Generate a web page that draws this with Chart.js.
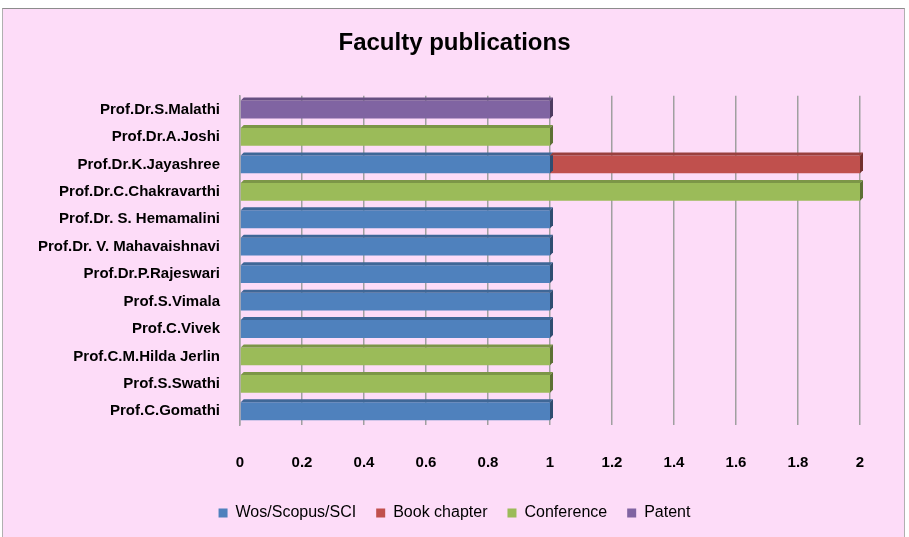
<!DOCTYPE html>
<html>
<head>
<meta charset="utf-8">
<script src="https://cdn.jsdelivr.net/npm/chart.js@4"></script>
<style>
    body { margin: 0; background: #ffffff; }
    #ramecek {
        position: absolute; left: 2px; top: 8px; width: 903px; height: 529px;
        background: #fddcf8; border-top: 1px solid #8c8c8c; border-left: 1px solid #b0b0b0; border-right: 1px solid #b0b0b0;
        box-sizing: border-box;
    }
    #obal { position: absolute; left: 0; top: 0; width: 909px; height: 537px; }
</style>
</head>
<body>
<div id="ramecek"></div>
<div id="obal"><canvas id="grafPublikace" width="909" height="537"></canvas></div>
<script>
const ucitele = [
    'Prof.Dr.S.Malathi', 'Prof.Dr.A.Joshi', 'Prof.Dr.K.Jayashree', 'Prof.Dr.C.Chakravarthi',
    'Prof.Dr. S. Hemamalini', 'Prof.Dr. V. Mahavaishnavi', 'Prof.Dr.P.Rajeswari', 'Prof.S.Vimala',
    'Prof.C.Vivek', 'Prof.C.M.Hilda Jerlin', 'Prof.S.Swathi', 'Prof.C.Gomathi'
];
const wosScopus   = [0, 0, 1, 0, 1, 1, 1, 1, 1, 0, 0, 1];
const kapitolaKnihy = [0, 0, 1, 0, 0, 0, 0, 0, 0, 0, 0, 0];
const konference  = [0, 1, 0, 2, 0, 0, 0, 0, 0, 1, 1, 0];
const patent      = [1, 0, 0, 0, 0, 0, 0, 0, 0, 0, 0, 0];
const osaX = [0, 0.2, 0.4, 0.6, 0.8, 1, 1.2, 1.4, 1.6, 1.8, 2];

const pismo = "'Liberation Sans Narrow', 'Liberation Sans', sans-serif";

// ztmavi barvu pro 3D hrany
function ztmav(hex, f) {
    const n = parseInt(hex.slice(1), 16);
    const r = Math.round(((n >> 16) & 255) * f), g = Math.round(((n >> 8) & 255) * f), b = Math.round((n & 255) * f);
    return `rgb(${r},${g},${b})`;
}

const hloubka = {
    id: 'hloubka',
    afterLayout(chart) {
        // popisky osy y se jinak orezou na levem okraji osy
        chart.scales.y.left = 0;
    },
    afterDatasetsDraw(chart) {
        const ctx = chart.ctx;
        const d = 3;
        chart.data.datasets.forEach((ds, i) => {
            const meta = chart.getDatasetMeta(i);
            meta.data.forEach((bar, j) => {
                if (!ds.data[j]) return;
                const top = bar.y - bar.height / 2, bottom = bar.y + bar.height / 2;
                ctx.save();
                ctx.fillStyle = ztmav(ds.backgroundColor, 0.8);
                ctx.beginPath();
                ctx.moveTo(bar.base, top); ctx.lineTo(bar.base + d, top - d);
                ctx.lineTo(bar.x + d, top - d); ctx.lineTo(bar.x, top); ctx.closePath(); ctx.fill();
                ctx.fillStyle = ztmav(ds.backgroundColor, 0.6);
                ctx.beginPath();
                ctx.moveTo(bar.x, top); ctx.lineTo(bar.x + d, top - d);
                ctx.lineTo(bar.x + d, bottom - d); ctx.lineTo(bar.x, bottom); ctx.closePath(); ctx.fill();
                ctx.restore();
            });
        });
    }
};

new Chart(document.getElementById('grafPublikace'), {
    type: 'bar',
    data: {
        labels: ucitele,
        datasets: [
            { label: 'Wos/Scopus/SCI', data: wosScopus, backgroundColor: '#4f81bd' },
            { label: 'Book chapter', data: kapitolaKnihy, backgroundColor: '#c0504d' },
            { label: 'Conference', data: konference, backgroundColor: '#9bbb59' },
            { label: 'Patent', data: patent, backgroundColor: '#8064a2' }
        ]
    },
    options: {
        responsive: false,
        animation: false,
        indexAxis: 'y',
        layout: { padding: { left: 49, right: 49, top: 0, bottom: 6 } },
        datasets: { bar: { barPercentage: 0.65, categoryPercentage: 1 } },
        plugins: {
            title: {
                display: true, text: 'Faculty publications', color: '#000',
                font: { family: pismo, size: 24, weight: 'bold' },
                padding: { top: 29, bottom: 38 }
            },
            legend: {
                position: 'bottom',
                labels: {
                    color: '#000', boxWidth: 9, boxHeight: 9, padding: 20,
                    font: { family: pismo, size: 16 }
                }
            },
            tooltip: { enabled: false }
        },
        scales: {
            x: {
                stacked: true, min: 0, max: 2,
                afterBuildTicks: s => { s.ticks = osaX.map(v => ({ value: v })); },
                afterFit: s => { s.height = 60; },
                grid: { color: '#a0a0a0', lineWidth: 1.5, drawTicks: false },
                border: { display: false },
                ticks: {
                    color: '#000', padding: 29,
                    font: { family: pismo, size: 15, weight: 'bold' },
                    callback: v => String(v)
                }
            },
            y: {
                stacked: true,
                afterFit: s => { s.width = 191; },
                grid: { display: false, drawTicks: false },
                border: { color: '#a0a0a0', width: 1.5 },
                ticks: { color: '#000', padding: 20, font: { family: pismo, size: 15, weight: 'bold' } }
            }
        }
    },
    plugins: [hloubka]
});
</script>
</body>
</html>
